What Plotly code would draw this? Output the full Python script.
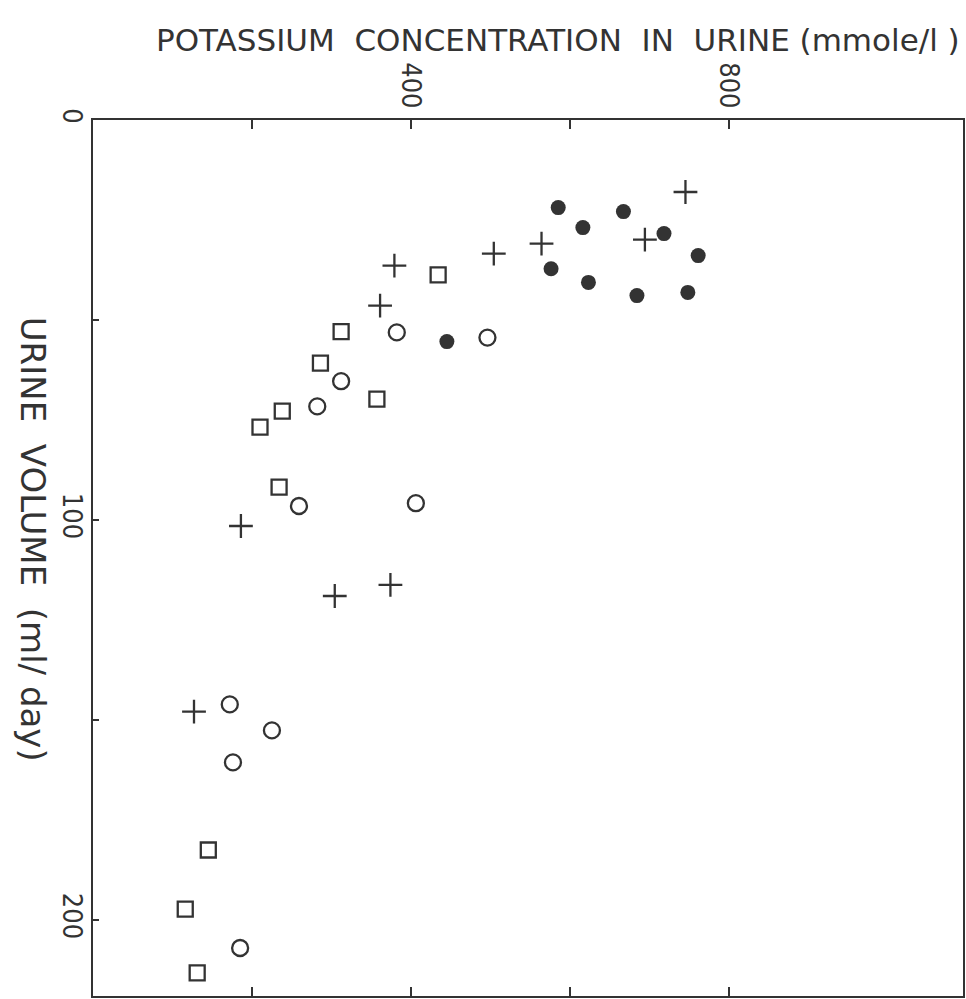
import plotly.graph_objects as go

# Potassium concentration in urine (mmole/l) against urine volume (ml/day)
filled_k = [585, 616, 667, 718, 761, 576, 623, 684, 748, 445]
filled_v = [21.9, 26.9, 22.9, 28.4, 33.9, 37.2, 40.6, 43.9, 43.1, 55.4]

plus_k = [745, 564, 694, 504, 379, 361, 186, 304, 374, 127]
plus_v = [18.0, 30.9, 29.9, 33.4, 36.4, 46.4, 101.5, 119.0, 116.2, 147.9]

square_k = [434, 312, 286, 238, 210, 357, 234, 145, 116, 131]
square_v = [38.7, 52.9, 60.8, 72.8, 76.8, 69.8, 91.8, 182.5, 197.3, 213.2]

circle_k = [382, 496, 312, 282, 259, 406, 172, 225, 176, 185]
circle_v = [53.1, 54.4, 65.3, 71.6, 96.5, 95.8, 146.1, 152.6, 160.6, 207.0]

x_tickvals = [200, 400, 600, 800]
x_ticktext = ["", "400", "", "800"]
y_tickvals = [0, 50, 100, 150, 200]
y_ticktext = ["0", "", "100", "", "200"]

INK = "#333333"
FONT = "DejaVu Sans Condensed"
TITLE_FONT = "DejaVu Sans"

fig = go.Figure()
fig.add_trace(go.Scatter(x=filled_k, y=filled_v, mode="markers",
                         marker=dict(symbol="circle", size=15, color=INK)))
fig.add_trace(go.Scatter(x=plus_k, y=plus_v, mode="markers",
                         marker=dict(symbol="cross-thin", size=17,
                                     line=dict(color=INK, width=2.3))))
fig.add_trace(go.Scatter(x=square_k, y=square_v, mode="markers",
                         marker=dict(symbol="square-open", size=15, color=INK,
                                     line=dict(color=INK, width=2.3))))
fig.add_trace(go.Scatter(x=circle_k, y=circle_v, mode="markers",
                         marker=dict(symbol="circle-open", size=16, color=INK,
                                     line=dict(color=INK, width=2.3))))

fig.update_layout(
    width=966, height=999,
    margin=dict(l=93, r=3, t=120, b=1),
    paper_bgcolor="white", plot_bgcolor="white",
    showlegend=False,
    font=dict(family=FONT, color=INK, size=27),
    xaxis=dict(
        side="top", range=[0, 1094],
        showgrid=False, zeroline=False,
        showline=True, linecolor=INK, linewidth=2, mirror="ticks",
        ticks="inside", ticklen=9, tickwidth=2, tickcolor=INK,
        tickvals=x_tickvals, ticktext=x_ticktext, tickangle=90,
        tickfont=dict(family=FONT, size=27, color=INK),
    ),
    yaxis=dict(
        range=[219, 0],
        showgrid=False, zeroline=False,
        showline=True, linecolor=INK, linewidth=2, mirror=True,
        ticks="inside", ticklen=6, tickwidth=2, tickcolor=INK,
        tickvals=y_tickvals, ticktext=y_ticktext, tickangle=90,
        ticklabelstandoff=-4,
        tickfont=dict(family=FONT, size=27, color=INK),
    ),
    annotations=[
        dict(text="POTASSIUM  CONCENTRATION  IN  URINE (mmole/l )",
             xref="paper", yref="paper", x=0.534, y=1.0, yshift=80,
             xanchor="center", yanchor="middle", showarrow=False,
             font=dict(family=TITLE_FONT, size=31, color=INK)),
        dict(text="URINE  VOLUME  (ml/ day)",
             xref="paper", yref="paper", x=0, xshift=-60, y=0.522,
             xanchor="center", yanchor="middle", textangle=90, showarrow=False,
             font=dict(family=TITLE_FONT, size=34, color=INK)),
    ],
)

fig.write_html("out.html")
